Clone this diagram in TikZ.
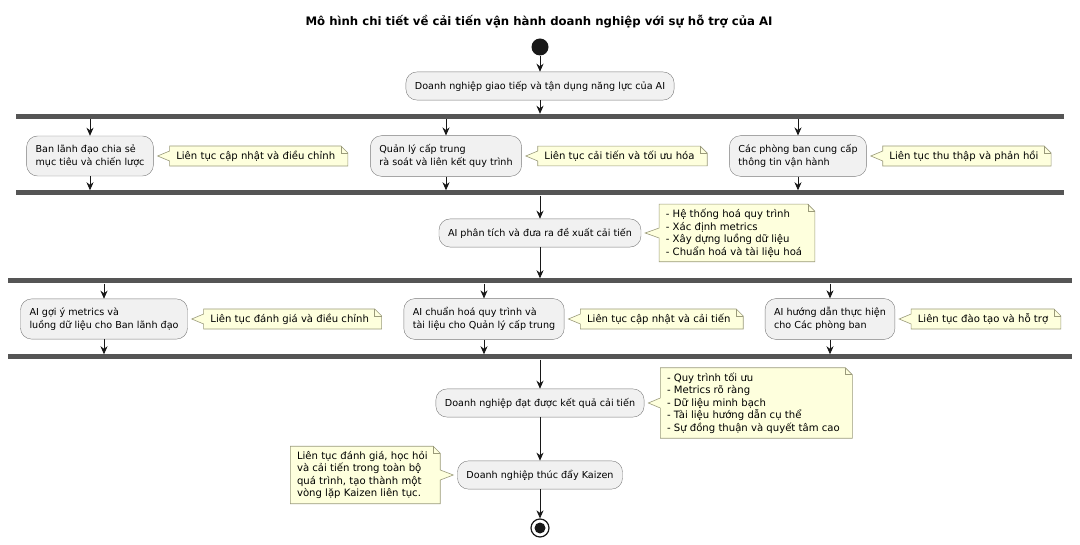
\documentclass[tikz,border=0pt]{standalone}
\usepackage{fontspec}
\setmainfont{DejaVu Sans}
\usetikzlibrary{arrows.meta,positioning,backgrounds}
\definecolor{actbg}{HTML}{F1F1F1}
\definecolor{actline}{HTML}{7A7A7A}
\definecolor{notebg}{HTML}{FEFFDD}
\definecolor{noteline}{HTML}{9A9A7A}
\definecolor{barcol}{HTML}{555555}
\definecolor{flowcol}{HTML}{181818}

% note outline, wedge on the left (note right of its activity)
\newcommand{\rightnote}[2]{%
  \draw[noteframe] (#1.north west) -- ([xshift=-1pt]#1.north east) -- ([xshift=6pt,yshift=-7pt]#1.north east)
    -- ([xshift=6pt]#1.south east) -- (#1.south west) -- ([yshift=-5pt]#1.west) -- ([xshift=4pt]#2.east)
    -- ([yshift=5pt]#1.west) -- cycle;
  \draw[noteframe, fill=none] ([xshift=-1pt]#1.north east) |- ([xshift=6pt,yshift=-7pt]#1.north east);
}
% note outline, wedge on the right (note left of its activity)
\newcommand{\leftnote}[2]{%
  \draw[noteframe] (#1.north west) -- ([xshift=-1pt]#1.north east) -- ([xshift=6pt,yshift=-7pt]#1.north east)
    -- ([xshift=6pt,yshift=5pt]#1.east) -- ([xshift=-4pt]#2.west) -- ([xshift=6pt,yshift=-5pt]#1.east)
    -- ([xshift=6pt]#1.south east) -- (#1.south west) -- cycle;
  \draw[noteframe, fill=none] ([xshift=-1pt]#1.north east) |- ([xshift=6pt,yshift=-7pt]#1.north east);
}

\begin{document}
\begin{tikzpicture}[x=1pt, y=-1pt,
    every node/.style={font=\fontsize{9.6}{12.5}\selectfont},
    act/.style={draw=actline, fill=actbg, rounded corners=11pt, align=left,
      inner xsep=9pt, inner ysep=9pt, minimum height=28pt},
    note/.style={align=left, inner xsep=6.5pt, inner ysep=4.5pt,
      font=\fontsize{10.1}{12.6}\selectfont},
    forkbar/.style={fill=barcol, inner sep=0pt, minimum height=5pt},
    flow/.style={draw=flowcol, line width=0.8pt, -{Stealth[length=8pt,width=7pt,inset=2.5pt]}},
    noteframe/.style={draw=noteline, fill=notebg, line width=0.6pt},
    node distance=16pt
  ]
  \useasboundingbox (0,0) rectangle (1080,545);

  \node[font=\bfseries\fontsize{11.7}{13}\selectfont] (title) at (539,22)
    {Mô hình chi tiết về cải tiến vận hành doanh nghiệp với sự hỗ trợ của AI};
  \node[circle, fill=flowcol, minimum size=17pt, inner sep=0pt] (start) at (540,47) {};
  \node[act] (comm) at (540,86) {Doanh nghiệp giao tiếp và tận dụng năng lực của AI};

  % first fork
  \node[forkbar, minimum width=1048pt] (fork1) at (540,116.5) {};
  \node[act] (lead) at (90,156) {Ban lãnh đạo chia sẻ\\mục tiêu và chiến lược};
  \node[act] (mid) at (446,156) {Quản lý cấp trung\\rà soát và liên kết quy trình};
  \node[act] (dept) at (798,156) {Các phòng ban cung cấp\\thông tin vận hành};
  \node[note, right=of lead] (nlead) {Liên tục cập nhật và điều chỉnh};
  \node[note, right=of mid] (nmid) {Liên tục cải tiến và tối ưu hóa};
  \node[note, right=of dept] (ndept) {Liên tục thu thập và phản hồi};
  \node[forkbar, minimum width=1048pt] (join1) at (540,193) {};

  \node[act] (ana) at (540,233) {AI phân tích và đưa ra đề xuất cải tiến};
  \node[note, right=18pt of ana] (nana)
    {- Hệ thống hoá quy trình\\- Xác định metrics\\- Xây dựng luồng dữ liệu\\- Chuẩn hoá và tài liệu hoá};

  % second fork
  \node[forkbar, minimum width=1064pt] (fork2) at (540,281) {};
  \node[act] (aimet) at (104,319) {AI gợi ý metrics và\\luồng dữ liệu cho Ban lãnh đạo};
  \node[act] (aistd) at (484,319) {AI chuẩn hoá quy trình và\\tài liệu cho Quản lý cấp trung};
  \node[act] (aiguide) at (830,319) {AI hướng dẫn thực hiện\\cho Các phòng ban};
  \node[note, right=of aimet] (naimet) {Liên tục đánh giá và điều chỉnh};
  \node[note, right=of aistd] (naistd) {Liên tục cập nhật và cải tiến};
  \node[note, right=of aiguide] (naiguide) {Liên tục đào tạo và hỗ trợ};
  \node[forkbar, minimum width=1064pt] (join2) at (540,357) {};

  \node[act] (res) at (540,403) {Doanh nghiệp đạt được kết quả cải tiến};
  \node[note, right=of res] (nres)
    {- Quy trình tối ưu\\- Metrics rõ ràng\\- Dữ liệu minh bạch\\- Tài liệu hướng dẫn cụ thể\\- Sự đồng thuận và quyết tâm cao};
  \node[act] (kai) at (540,475) {Doanh nghiệp thúc đẩy Kaizen};
  \node[note, left=23pt of kai] (nkai)
    {Liên tục đánh giá, học hỏi\\và cải tiến trong toàn bộ\\quá trình, tạo thành một\\vòng lặp Kaizen liên tục.};
  \node[circle, draw=flowcol, line width=1.2pt, minimum size=18pt, inner sep=0pt] (stop) at (540,528) {};
  \fill[flowcol] (stop) circle (5.5);

  \begin{scope}[on background layer]
    \foreach \n/\a in {nlead/lead, nmid/mid, ndept/dept, nana/ana,
                       naimet/aimet, naistd/aistd, naiguide/aiguide, nres/res}
      {\rightnote{\n}{\a}}
    \leftnote{nkai}{kai}
  \end{scope}

  % connectors
  \draw[flow] (start) -- (comm);
  \draw[flow] (comm) -- (fork1);
  \foreach \b in {lead, mid, dept} {
    \draw[flow] (\b.north |- fork1.south) -- (\b);
    \draw[flow] (\b) -- (\b.south |- join1.north);
  }
  \draw[flow] (join1) -- (ana);
  \draw[flow] (ana) -- (fork2);
  \foreach \b in {aimet, aistd, aiguide} {
    \draw[flow] (\b.north |- fork2.south) -- (\b);
    \draw[flow] (\b) -- (\b.south |- join2.north);
  }
  \draw[flow] (join2) -- (res);
  \draw[flow] (res) -- (kai);
  \draw[flow] (kai) -- (stop);
\end{tikzpicture}
\end{document}
